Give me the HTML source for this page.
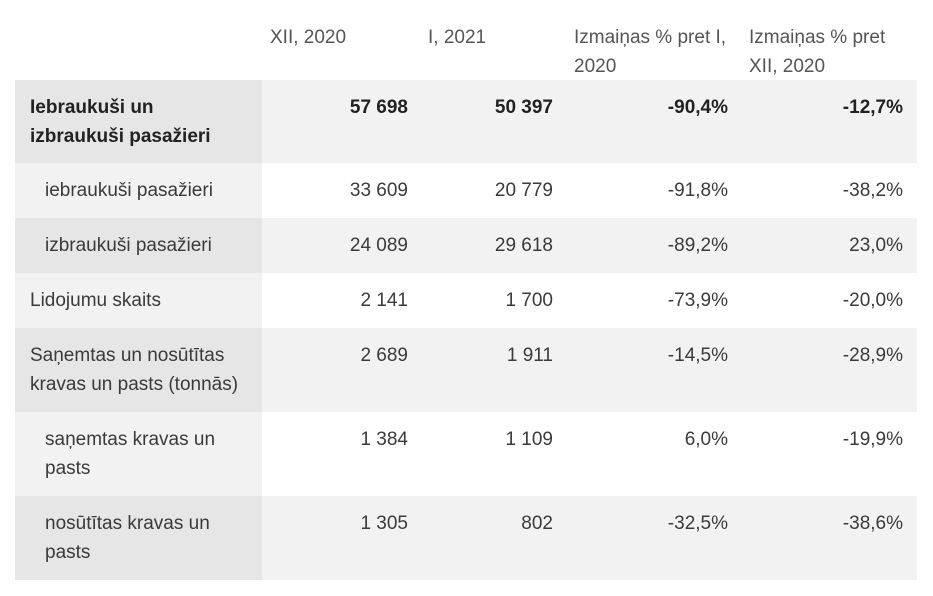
<!DOCTYPE html>
<html><head><meta charset="utf-8"><style>
body{margin:0;width:933px;height:596px;background:#fff;font-family:"Liberation Sans",sans-serif;color:#3a3a3a;font-size:19px;position:relative;overflow:hidden}
.c{position:absolute;line-height:29px;white-space:nowrap}
.bg{position:absolute}
.r{text-align:right}
.b{font-weight:bold;color:#222}
</style></head><body>
<div id="t"></div>
<script>
const headers=["XII, 2020","I, 2021","Izmaiņas % pret I,<br>2020","Izmaiņas % pret<br>XII, 2020"];
const labels=["Iebraukuši un<br>izbraukuši pasažieri","iebraukuši pasažieri","izbraukuši pasažieri","Lidojumu skaits","Saņemtas un nosūtītas<br>kravas un pasts (tonnās)","saņemtas kravas un<br>pasts","nosūtītas kravas un<br>pasts"];
const colDec=["57 698","33 609","24 089","2 141","2 689","1 384","1 305"];
const colJan=["50 397","20 779","29 618","1 700","1 911","1 109","802"];
const colChgJan=["-90,4%","-91,8%","-89,2%","-73,9%","-14,5%","6,0%","-32,5%"];
const colChgDec=["-12,7%","-38,2%","23,0%","-20,0%","-28,9%","-19,9%","-38,6%"];
const indent=[0,1,1,0,0,1,1];
const rowTops=[80,163,218,273,328,412,496,580];
const t=document.getElementById('t');
function add(cls,style,html,name){const d=document.createElement('div');d.className=cls;d.style.cssText=style;if(html!=null)d.innerHTML=html;


t.appendChild(d);return d;}
const hx=[270,428,574,749];
headers.forEach((h,i)=>add('c','left:'+hx[i]+'px;top:23px;color:#555',h,'column-header-'+i));
const rightEdges=[408,553,728,903];
const cols=[colDec,colJan,colChgJan,colChgDec];
labels.forEach((l,i)=>{
 const top=rowTops[i],h=rowTops[i+1]-top,shaded=i%2==0;
 add('bg','left:15px;top:'+top+'px;width:247px;height:'+h+'px;background:'+(shaded?'#e6e6e6':'#f2f2f2'),null,'row-label-bg-'+i);
 add('bg','left:262px;top:'+top+'px;width:655px;height:'+h+'px;background:'+(shaded?'#f2f2f2':'#fff'),null,'row-bg-'+i);
 add('c'+(i==0?' b':''),'left:'+(indent[i]?45:30)+'px;top:'+(top+13)+'px',l,'row-label-'+i);
 cols.forEach((c,j)=>add('c r'+(i==0?' b':''),'right:'+(933-rightEdges[j])+'px;top:'+(top+13)+'px',c[i],'cell-'+i+'-'+j));
});
</script>
</body></html>
